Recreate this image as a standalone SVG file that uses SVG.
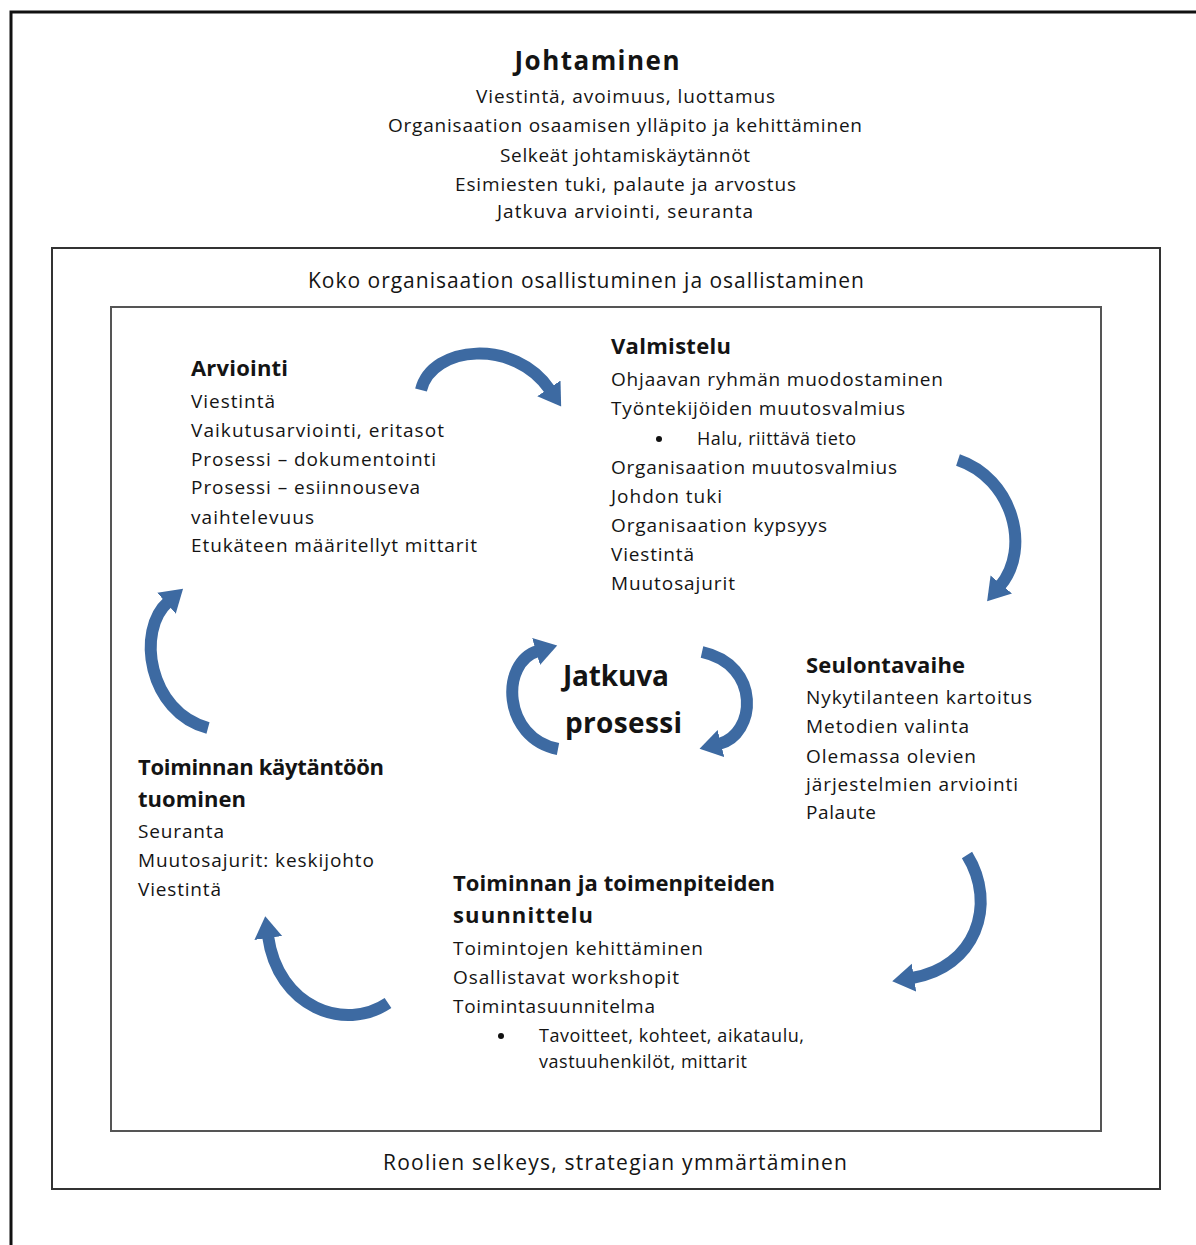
<svg xmlns="http://www.w3.org/2000/svg" width="1196" height="1245" viewBox="0 0 1196 1245">
<style>
text{font-family:"Open Sans","Liberation Sans",Arial,sans-serif;fill:#141414;}
.t{font-size:19px;}
.s{font-size:18px;}
.h{font-size:22px;font-weight:bold;}
.arr{fill:none;stroke:#3d6aa2;stroke-width:12;stroke-linecap:butt;}
</style>
<defs>
<marker id="ah" markerUnits="userSpaceOnUse" markerWidth="30" markerHeight="30" refX="2" refY="14" orient="auto" viewBox="0 0 30 28">
<path d="M0,0 L22,14 L0,28 Z" fill="#3d6aa2"/>
</marker>
</defs>
<rect width="1196" height="1245" fill="#fff"/>
<g id="frames">
<path d="M11,1250 L11,12 L1200,12" fill="none" stroke="#111" stroke-width="3"/>
<rect x="52" y="248" width="1108" height="941" fill="none" stroke="#333" stroke-width="2"/>
<rect x="111" y="307" width="990" height="824" fill="none" stroke="#555" stroke-width="2"/>
</g>
<g id="johtaminen">
<text x="597" y="70" text-anchor="middle" font-size="26" font-weight="bold" textLength="165">Johtaminen</text>
<text x="476" y="103" class="t" textLength="299">Viestintä, avoimuus, luottamus</text>
<text x="388" y="132" class="t" textLength="474">Organisaation osaamisen ylläpito ja kehittäminen</text>
<text x="500" y="162" class="t" textLength="250">Selkeät johtamiskäytännöt</text>
<text x="455" y="191" class="t" textLength="341">Esimiesten tuki, palaute ja arvostus</text>
<text x="497" y="218" class="t" textLength="256">Jatkuva arviointi, seuranta</text>
</g>
<g id="osallistuminen">
<text x="308" y="288" font-size="21" textLength="556">Koko organisaation osallistuminen ja osallistaminen</text>
</g>
<g id="roolit">
<text x="383" y="1170" font-size="21" textLength="464">Roolien selkeys, strategian ymmärtäminen</text>
</g>
<g id="arviointi">
<text x="191" y="376" class="h" textLength="97">Arviointi</text>
<text x="191" y="408" class="t" textLength="84">Viestintä</text>
<text x="191" y="437" class="t" textLength="253">Vaikutusarviointi, eritasot</text>
<text x="191" y="466" class="t" textLength="245">Prosessi – dokumentointi</text>
<text x="191" y="494" class="t" textLength="229">Prosessi – esiinnouseva</text>
<text x="191" y="524" class="t" textLength="123">vaihtelevuus</text>
<text x="191" y="552" class="t" textLength="286">Etukäteen määritellyt mittarit</text>
</g>
<g id="valmistelu">
<text x="611" y="354" class="h" textLength="120">Valmistelu</text>
<text x="611" y="386" class="t" textLength="332">Ohjaavan ryhmän muodostaminen</text>
<text x="611" y="415" class="t" textLength="294">Työntekijöiden muutosvalmius</text>
<circle cx="659" cy="439" r="3" fill="#111"/>
<text x="697" y="445" class="s" textLength="159">Halu, riittävä tieto</text>
<text x="611" y="474" class="t" textLength="286">Organisaation muutosvalmius</text>
<text x="611" y="503" class="t" textLength="111">Johdon tuki</text>
<text x="611" y="532" class="t" textLength="216">Organisaation kypsyys</text>
<text x="611" y="561" class="t" textLength="83">Viestintä</text>
<text x="611" y="590" class="t" textLength="124">Muutosajurit</text>
</g>
<g id="seulontavaihe">
<text x="806" y="673" class="h" textLength="159">Seulontavaihe</text>
<text x="806" y="704" class="t" textLength="226">Nykytilanteen kartoitus</text>
<text x="806" y="733" class="t" textLength="163">Metodien valinta</text>
<text x="806" y="763" class="t" textLength="170">Olemassa olevien</text>
<text x="806" y="791" class="t" textLength="212">järjestelmien arviointi</text>
<text x="806" y="819" class="t" textLength="70">Palaute</text>
</g>
<g id="kaytantoon">
<text x="138" y="775" class="h" textLength="246">Toiminnan käytäntöön</text>
<text x="138" y="807" class="h" textLength="108">tuominen</text>
<text x="138" y="838" class="t" textLength="86">Seuranta</text>
<text x="138" y="867" class="t" textLength="236">Muutosajurit: keskijohto</text>
<text x="138" y="896" class="t" textLength="83">Viestintä</text>
</g>
<g id="suunnittelu">
<text x="453" y="891" class="h" textLength="322">Toiminnan ja toimenpiteiden</text>
<text x="453" y="923" class="h" textLength="140">suunnittelu</text>
<text x="453" y="955" class="t" textLength="250">Toimintojen kehittäminen</text>
<text x="453" y="984" class="t" textLength="226">Osallistavat workshopit</text>
<text x="453" y="1013" class="t" textLength="202">Toimintasuunnitelma</text>
<circle cx="501" cy="1036" r="3" fill="#111"/>
<text x="539" y="1042" class="s" textLength="265">Tavoitteet, kohteet, aikataulu,</text>
<text x="539" y="1068" class="s" textLength="208">vastuuhenkilöt, mittarit</text>
</g>
<g id="jatkuva">
<text x="563" y="686" font-size="28" font-weight="bold" textLength="106">Jatkuva</text>
<text x="565" y="733" font-size="28" font-weight="bold" textLength="117">prosessi</text>
</g>
<g id="connectors">
<path class="arr" marker-end="url(#ah)" d="M421,390 C432,345 515,338 550,390"/>
<path class="arr" marker-end="url(#ah)" d="M958,460 C1012,478 1032,548 1000,586"/>
<path class="arr" marker-end="url(#ah)" d="M967,855 C998,905 975,968 912,978"/>
<path class="arr" marker-end="url(#ah)" d="M388,1003 C345,1032 278,1008 268,936"/>
<path class="arr" marker-end="url(#ah)" d="M208,728 C148,712 136,630 168,602"/>
<path class="arr" marker-end="url(#ah)" d="M558,749 C502,738 500,662 538,651"/>
<path class="arr" marker-end="url(#ah)" d="M702,652 C762,665 756,735 719,744"/>
</g>
</svg>
